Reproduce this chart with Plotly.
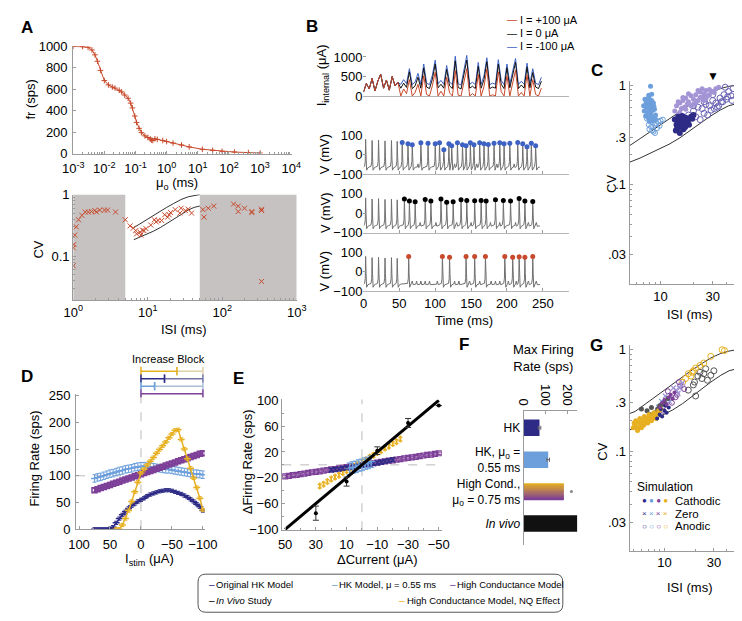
import math
import plotly.graph_objects as go

W, H = 742, 621
def fx(px): return px / W
def fy(py): return 1 - py / H
def dom_x(a, b): return [fx(a), fx(b)]
def dom_y(top, bottom): return [fy(bottom), fy(top)]

FONT = "Liberation Sans, Arial, Helvetica, sans-serif"
AX = "#9b9b9b"
C_RED = "#c8492b"
C_HK = "#2e2b86"
C_HK55 = "#6c9fdc"
C_HC = "#7d3f98"
C_NQ = "#e7b021"
C_LP = "#a394d6"
C_BLUE_B = "#3d62c4"
C_GREY = "#c6c2c2"

# ---------------- Panel A (top): firing rate vs mu_o ----------------
mu_a = [0.001, 0.002, 0.003, 0.004, 0.005, 0.006, 0.0075, 0.01, 0.0135, 0.018, 0.022, 0.03,
        0.036, 0.045, 0.058, 0.07, 0.08, 0.095, 0.108, 0.13, 0.155, 0.2, 0.25, 0.3, 0.33,
        0.36, 0.42, 0.5, 0.75, 1.0, 1.6, 3, 5.3, 14, 30, 60, 150, 420, 1000]
fr_a = [1000, 998, 990, 965, 920, 860, 775, 680, 640, 620, 610, 590, 575, 545, 515, 470,
        425, 350, 290, 235, 195, 165, 150, 135, 125, 122, 138, 132, 122, 112, 98, 80, 62,
        40, 30, 21, 14, 9, 5]
a_xticks = [-3, -2, -1, 0, 1, 2, 3, 4]
a_yticks = [0, 200, 400, 600, 800, 1000]

# ---------------- Panel A (bottom): CV vs ISI ----------------
isi_ab = [1.0, 1.0, 1.02, 1.05, 1.1, 1.18, 1.31, 1.45, 1.6, 1.76, 1.95, 2.05, 2.27, 2.63, 2.9,
          3.7, 5.0, 5.8, 6.4, 6.9, 7.1, 7.9, 8.1, 8.5, 8.9, 9.5, 11, 12.3, 13, 13.8, 15.4,
          16.9, 18.5, 19.4, 20.3, 23.4, 27, 28, 32, 35, 38.8, 55, 57, 65, 77, 142, 164, 164,
          199, 250, 250, 337, 337, 337]
cv_ab = [0.07, 0.137, 0.155, 0.22, 0.30, 0.39, 0.46, 0.52, 0.52, 0.53, 0.55, 0.52, 0.56, 0.56,
         0.56, 0.52, 0.39, 0.31, 0.285, 0.26, 0.23, 0.245, 0.22, 0.265, 0.26, 0.28, 0.32, 0.39,
         0.36, 0.38, 0.38, 0.47, 0.43, 0.47, 0.51, 0.57, 0.5, 0.6, 0.55, 0.58, 0.5, 0.57, 0.43,
         0.6, 0.65, 0.7, 0.65, 0.53, 0.6, 0.51, 0.53, 0.58, 0.55, 0.039]
shade_regions = [(1, 5), (50, 1000)]
shade_cv = (0.0195, 1.0)

# model CV band (curves)
curve_isi = [4.6, 5.2, 6.5, 8.0, 10, 12, 15, 18, 22, 28, 35, 42, 50]
curve_hi = [0.235, 0.246, 0.29, 0.34, 0.40, 0.46, 0.54, 0.62, 0.71, 0.83, 0.92, 0.97, 1.0]
curve_lo = [0.163, 0.168, 0.185, 0.205, 0.23, 0.255, 0.295, 0.34, 0.40, 0.48, 0.56, 0.62, 0.65]

# ---------------- Panel B ----------------
t_I = list(range(0, 249, 4))
I_pre = [100, 320, 180, 450, 130, 380, 560, 200, 410, 150, 500, 260, 350]
I_red_post = [0, 180, 60, 420, 0, 90, 300, 0, 520, 40, 0, 260, 610, 0, 120, 0, 480, 80, 0, 650,
              20, 0, 380, 700, 0, 60, 0, 560, 0, 240, 690, 0, 30, 0, 620, 110, 0, 520, 0, 380,
              660, 0, 90, 0, 540, 0, 420, 40, 0, 200]
I_blk_post = [200, 330, 220, 620, 190, 260, 480, 200, 720, 230, 190, 430, 820, 210, 300, 200, 680,
              260, 190, 900, 220, 180, 560, 920, 200, 250, 190, 760, 200, 420, 880, 190, 230, 200,
              820, 300, 190, 720, 210, 560, 860, 190, 280, 200, 740, 210, 600, 230, 190, 380]
I_blu_post = [300, 420, 320, 700, 290, 360, 580, 300, 820, 330, 290, 530, 920, 310, 400, 300, 780,
              360, 290, 1020, 320, 280, 660, 1040, 300, 350, 290, 860, 300, 520, 980, 290, 330, 300,
              930, 400, 290, 820, 310, 660, 960, 290, 380, 300, 840, 310, 700, 330, 290, 480]
b_labels = ["I = +100 μA", "I = 0 μA", "I = -100 μA"]

pre_t = [3, 12, 21, 30, 39, 47]
pre_v = [78, 72, 74, 70, 72, 68]
v1_t = [54, 62, 68, 80, 90, 100, 106, 112, 119, 123, 131, 138, 143, 149, 154, 162, 168, 174, 182,
        190, 196, 204, 215, 222, 228, 234, 240]
v1_v = [62, 55, 50, 60, 58, 55, 60, 25, 55, 45, 60, 50, 45, 60, 50, 60, 55, 52, 58, 60, 55, 58,
        62, 55, 40, 58, 45]
v2_t = [57, 64, 72, 86, 94, 108, 116, 125, 136, 144, 155, 164, 171, 184, 195, 205, 217, 225, 236]
v2_v = [72, 62, 58, 70, 62, 72, 56, 58, 68, 65, 63, 65, 62, 68, 64, 62, 75, 62, 60]
v3_t = [63, 110, 120, 143, 155, 170, 197, 208, 217, 225, 236]
v3_v = [78, 78, 74, 78, 77, 77, 78, 74, 76, 74, 78]
v1_bumps = [76, 127, 158, 186, 210]
v2_bumps = [79, 101, 130, 150, 177, 190, 212, 230, 241]
v3_bumps = [68, 74, 80, 86, 92, 103, 127, 133, 148, 162, 178, 184, 190, 202, 213, 230, 241]

# template of one action potential (relative times, voltages; peak inserted)
SPK_DT = [-1.5, -0.5, 0.0, 0.6, 1.4, 3.0, 5.0]
SPK_V = [-60, -35, None, -10, -80, -68, -64]
BMP_DT = [-1.0, 0.0, 1.2]
BMP_V = [-64, -48, -67]

# ---------------- Panel C ----------------
lbf_isi = [7.2, 7.5, 7.8, 8.0, 8.3, 8.6, 7.4, 7.9, 8.2, 8.8, 7.1, 7.6, 8.1, 8.5, 9.0, 7.3, 7.7, 8.4,
           8.9, 7.0, 7.5, 8.0, 8.6, 7.8, 8.3, 7.6, 8.1, 8.7, 7.4, 8.0, 8.4, 7.9, 8.2, 7.7, 8.5, 8.1]
lbf_cv = [0.72, 0.68, 0.75, 0.66, 0.70, 0.62, 0.60, 0.58, 0.64, 0.57, 0.55, 0.53, 0.52, 0.56, 0.50,
          0.49, 0.47, 0.48, 0.45, 0.62, 0.63, 0.71, 0.66, 0.79, 0.81, 0.54, 0.60, 0.61, 0.67, 0.46,
          0.44, 0.43, 0.55, 0.50, 0.58, 0.97]
lbo_isi = [7.5, 8.0, 8.5, 9.0, 9.5, 10.0, 8.2, 8.8, 9.3, 7.8, 8.4, 9.1, 9.8, 10.5, 8.6, 7.9, 8.9]
lbo_cv = [0.46, 0.44, 0.42, 0.45, 0.43, 0.44, 0.38, 0.40, 0.37, 0.40, 0.35, 0.41, 0.39, 0.45, 0.34,
          0.36, 0.33]
lp_isi = [13.5, 14, 14.5, 15, 15.5, 16, 16.5, 17, 17.5, 18, 19, 20, 21, 22, 23, 24, 25, 26, 27, 28,
          30, 32, 34, 15, 17, 19, 21, 23, 25, 14.5, 16, 18, 20, 22, 24, 26, 28, 31]
lp_cv = [0.55, 0.62, 0.50, 0.66, 0.58, 0.70, 0.60, 0.74, 0.64, 0.68, 0.78, 0.72, 0.80, 0.70, 0.85,
         0.76, 0.82, 0.88, 0.78, 0.90, 0.86, 0.92, 0.95, 0.53, 0.57, 0.62, 0.66, 0.75, 0.70, 0.68,
         0.75, 0.82, 0.64, 0.88, 0.92, 0.73, 0.80, 0.84]
dn_isi = [13.5, 14, 14.5, 15, 15.5, 16, 16.5, 17, 17.5, 18, 19, 20, 14.2, 15.2, 16.2, 17.2, 18.2,
          14.8, 15.8, 16.8, 13.8, 19.5, 15, 16, 17, 14.5]
dn_cv = [0.45, 0.40, 0.48, 0.42, 0.46, 0.40, 0.44, 0.47, 0.42, 0.45, 0.48, 0.50, 0.37, 0.38, 0.36,
         0.41, 0.40, 0.44, 0.49, 0.38, 0.35, 0.46, 0.33, 0.43, 0.45, 0.42]
od_isi = [18, 20, 21, 22, 24, 25, 26, 28, 29, 30, 32, 33, 35, 36, 38, 40, 42, 44, 46, 23, 27, 31, 34,
          37, 41, 45, 20, 25, 30, 39]
od_cv = [0.50, 0.55, 0.48, 0.60, 0.58, 0.52, 0.64, 0.62, 0.56, 0.70, 0.66, 0.60, 0.74, 0.68, 0.80,
         0.72, 0.86, 0.78, 0.92, 0.45, 0.50, 0.58, 0.62, 0.68, 0.76, 0.70, 0.62, 0.68, 0.80, 0.95]
cv_tickvals = [0.02, 0.1, 0.3, 1]
cv_ticktext = [".03", ".1", ".3", "1"]
isi_tickvals = [10, 30]

# ---------------- Panel D ----------------
d_x = list(range(75, -101, -5))
d_hk = [0, 0, 0, 0, 0, 1, 4, 12, 20, 27, 33, 39, 44, 48, 52, 55, 58, 62, 65, 67, 69, 71, 72, 73,
        73, 72, 70, 68, 66, 63, 60, 56, 52, 47, 42, 35]
d_hk55 = [95, 97, 98, 100, 102, 104, 105, 107, 109, 110, 112, 113, 114, 116, 117, 118, 118, 117,
          117, 116, 115, 114, 113, 112, 112, 111, 110, 109, 108, 107, 106, 105, 104, 104, 103, 102]
d_hc = [73, 75, 77, 79, 81, 83, 85, 87, 89, 91, 93, 95, 97, 99, 101, 103, 105, 107, 109, 111, 113,
        115, 117, 119, 121, 123, 125, 127, 129, 131, 133, 135, 137, 139, 141, 142]
d_nq_x = list(range(40, -101, -5))
d_nq = [0, 0, 8, 20, 35, 52, 70, 88, 105, 112, 120, 127, 134, 142, 149, 156, 163, 171, 178, 185,
        186, 168, 150, 132, 114, 96, 78, 58, 36]
block_colors = [(C_NQ, "#dcd2a8"), (C_HK, "#7373a6"), (C_HK55, "#a9bfd6"), (C_HC, C_HC)]
block_mid = [-58, -38, -22, None]
block_start, block_end = 0, -100

# ---------------- Panel E ----------------
e_fit_x = [50, -50]
e_fit_y = [-100, 100]
e_vivo_x = [30, 10, -10, -30, -50]
e_vivo_y = [-75, -26, 22, 65, 92]
e_vivo_err = [11, 7, 6, 7, 0]
e_hc_x = [50 - 2.5 * i for i in range(41)]
e_hc_y = [-18, -17, -16, -15.5, -14.5, -13.5, -12.5, -11.5, -11, -10, -9, -8, -7, -6.5, -5.5, -4.5,
          -3.5, -2.5, -2, -1, 0, 1, 2, 2.5, 3.5, 4.5, 5.5, 6.5, 7, 8, 9, 10, 11, 11.5, 12.5, 13.5,
          14.5, 15.5, 16, 17, 18]
e_nq_x = [27.5 - 2.5 * i for i in range(22)]
e_nq_y = [-33, -30, -26, -22, -19, -16, -12, -9, -5, -2, 1, 5, 8, 12, 15, 19, 22, 26, 29, 33, 36, 40]
e_hk_x = [20 - 2.5 * i for i in range(17)]
e_hk_y = [-8, -7, -6.5, -5.5, -4.5, -4, -3, -2, -1, 0, 1, 2, 3, 4, 5.5, 6.5, 8]
e_hk55_x = [8, 6, 4, 2, 0, -2, -4, -6]
e_hk55_y = [-6, -4, -3, -1, 0, 2, 3, 5]

# ---------------- Panel F ----------------
f_labels = ["HK", "HK, μ<sub>o</sub> =<br>0.55 ms", "High Cond.,<br>μ<sub>o</sub> = 0.75 ms",
            "<i>In vivo</i>"]
f_values = [73, 113, 185, 247]
f_err = [6, 6, 0, 0]
f_hc_point = 220

# ---------------- Panel G ----------------
gy_isi = [5.0, 5.2, 5.5, 5.7, 6.0, 6.2, 6.5, 6.8, 7.0, 7.3, 7.6, 8.0, 8.4, 5.3, 5.8, 6.3, 6.7, 7.1,
          7.5, 7.9, 8.3, 8.8, 5.1, 6.0, 6.9, 7.8, 9.2, 5.6, 6.4, 7.2]
gy_cv = [0.17, 0.18, 0.16, 0.19, 0.18, 0.20, 0.19, 0.21, 0.20, 0.22, 0.21, 0.22, 0.23, 0.20, 0.21,
         0.18, 0.20, 0.23, 0.20, 0.24, 0.21, 0.25, 0.19, 0.17, 0.19, 0.22, 0.26, 0.17, 0.22, 0.21]
gg_isi = [6.0, 6.8, 7.5, 8.2, 9.0, 10.0, 10.8, 7.2, 8.6, 9.6]
gg_cv = [0.26, 0.25, 0.27, 0.24, 0.28, 0.30, 0.33, 0.23, 0.26, 0.29]
gd_isi = [8.5, 9.0, 9.5, 10, 10.5, 11, 9.2, 10.2]
gd_cv = [0.21, 0.23, 0.22, 0.25, 0.24, 0.27, 0.26, 0.28]
gpf_isi = [9, 9.5, 10, 10.5, 11, 11.5, 12, 12.5]
gpf_cv = [0.27, 0.30, 0.32, 0.29, 0.34, 0.36, 0.33, 0.38]
gpx_isi = [13, 13.5, 14, 14.5, 15, 10.2, 11.2, 12.2]
gpx_cv = [0.40, 0.37, 0.42, 0.45, 0.47, 0.35, 0.31, 0.42]
gpo_isi = [13.2, 14.2, 9.8, 10.8, 11.8, 12.8, 13.8, 15.5]
gpo_cv = [0.36, 0.44, 0.25, 0.39, 0.30, 0.34, 0.48, 0.41]
glb_isi = [8.8, 9.4, 10.1, 11.0]
glb_cv = [0.27, 0.31, 0.29, 0.33]
gyo_isi = [16, 17, 18, 19, 20, 22, 24, 28, 36, 38, 15, 18.5]
gyo_cv = [0.52, 0.58, 0.55, 0.62, 0.66, 0.70, 0.74, 0.86, 1.0, 0.98, 0.48, 0.60]
ggo_isi = [17, 19, 20, 21, 22, 23, 24, 26, 28, 30, 19.5, 25]
ggo_cv = [0.40, 0.45, 0.35, 0.55, 0.60, 0.52, 0.58, 0.50, 0.56, 0.62, 0.48, 0.65]
g_legend = [("Cathodic", "●"), ("Zero", "×"), ("Anodic", "○")]
g_legend_colors = [C_HK, C_HK55, C_HC, C_NQ]

# ---------------- bottom legend ----------------
legend_items = [("Original HK Model", C_HK, 195, 584), ("HK Model, μ = 0.55 ms", C_HK55, 322, 584),
                ("High Conductance Model", C_HC, 444, 584), ("<i>In Vivo</i> Study", "black", 195, 600),
                ("High Conductance Model, NQ Effect", C_NQ, 392, 600)]

fig = go.Figure()

def sc(x, y, xa, ya, **kw):
    fig.add_trace(go.Scatter(x=x, y=y, xaxis=xa, yaxis=ya, showlegend=False, hoverinfo="skip", **kw))

# A top
sc(mu_a, fr_a, "x", "y", mode="lines+markers", line=dict(color=C_RED, width=1),
   marker=dict(symbol="cross-thin", size=4, line=dict(color=C_RED, width=1)))

# A bottom
for lo, hi in shade_regions:
    sc([lo, hi, hi, lo, lo], [shade_cv[0], shade_cv[0], shade_cv[1], shade_cv[1], shade_cv[0]],
       "x2", "y2", mode="lines", fill="toself", fillcolor=C_GREY, line=dict(width=0))
ci = [i for i, v in enumerate(curve_isi) if v >= 5.5]
for cv in (curve_hi, curve_lo):
    sc([curve_isi[i] for i in ci], [cv[i] for i in ci], "x2", "y2", mode="lines",
       line=dict(color="#333333", width=1))
sc(isi_ab, cv_ab, "x2", "y2", mode="markers",
   marker=dict(symbol="x-thin", size=5, line=dict(color=C_RED, width=1)))

# B current traces
sc(t_I, I_pre + I_blu_post, "x3", "y3", mode="lines", line=dict(color=C_BLUE_B, width=1))
sc(t_I, I_pre + I_blk_post, "x3", "y3", mode="lines", line=dict(color="#111111", width=1))
sc(t_I, I_pre + I_red_post, "x3", "y3", mode="lines", line=dict(color=C_RED, width=1))

def build_v(sp_t, sp_v, bumps):
    ev = sorted([(t, v, "s") for t, v in zip(pre_t + sp_t, pre_v + sp_v)] +
                [(t, None, "b") for t in bumps])
    tt, vv = [0.0], [-65.0]
    for k, (t, v, kind) in enumerate(ev):
        nxt = ev[k + 1][0] - 1.5 if k + 1 < len(ev) else 246
        dts, vs = (SPK_DT, SPK_V) if kind == "s" else (BMP_DT, BMP_V)
        for dt, dv in zip(dts, vs):
            tp = t + dt
            if tp <= tt[-1]:
                continue
            if tp >= nxt and dt > 0:
                break
            tt.append(tp)
            vv.append(v if dv is None else dv)
    tt.append(246)
    vv.append(-66)
    return tt, vv

for (st, sv, bm, col, ya, xa) in [(v1_t, v1_v, v1_bumps, C_BLUE_B, "y4", "x4"),
                                  (v2_t, v2_v, v2_bumps, "black", "y5", "x5"),
                                  (v3_t, v3_v, v3_bumps, C_RED, "y6", "x6")]:
    tt, vv = build_v(st, sv, bm)
    sc(tt, vv, xa, ya, mode="lines", line=dict(color="#707070", width=1))
    sc(st, sv, xa, ya, mode="markers", marker=dict(color=col, size=5))

# C
for cv in (curve_hi, curve_lo):
    sc(curve_isi, cv, "x7", "y7", mode="lines", line=dict(color="#333333", width=1))
sc(lbo_isi, lbo_cv, "x7", "y7", mode="markers",
   marker=dict(symbol="circle-open", size=5, color=C_HK55, line=dict(width=1)))
sc(lbf_isi, lbf_cv, "x7", "y7", mode="markers", marker=dict(size=5, color=C_HK55))
sc(od_isi, od_cv, "x7", "y7", mode="markers",
   marker=dict(symbol="circle-open", size=6, color="#6b63b5", line=dict(width=1)))
sc(lp_isi, lp_cv, "x7", "y7", mode="markers", marker=dict(size=5, color=C_LP))
sc(dn_isi, dn_cv, "x7", "y7", mode="markers", marker=dict(size=6, color=C_HK))

# D
for xs, ys, col, sym, err in [(d_x, d_hk55, C_HK55, "line-ew-open", 7),
                              (d_x, d_hc, C_HC, "square-open", 3),
                              (d_x, d_hk, C_HK, "line-ew-open", 3),
                              (d_nq_x, d_nq, C_NQ, "line-ew-open", 3)]:
    sc(xs, ys, "x8", "y8", mode="lines+markers", line=dict(color=col, width=1.5),
       marker=dict(symbol=sym, size=5, color=col, line=dict(color=col, width=1.5)),
       error_y=dict(type="constant", value=err, color=col, thickness=1, width=2))
for k, ((c1, c2), mid) in enumerate(zip(block_colors, block_mid)):
    yv = 4 - k
    if mid is None:
        sc([block_start, block_end], [yv, yv], "x9", "y9", mode="lines+markers",
           line=dict(color=c1, width=1.5),
           marker=dict(symbol="line-ns-open", size=6, line=dict(color=c1, width=1.5)))
    else:
        sc([mid, block_end], [yv, yv], "x9", "y9", mode="lines+markers",
           line=dict(color=c2, width=1.5),
           marker=dict(symbol="line-ns-open", size=6, line=dict(color=c2, width=1.5)))
        sc([block_start, mid], [yv, yv], "x9", "y9", mode="lines+markers",
           line=dict(color=c1, width=1.5),
           marker=dict(symbol="line-ns-open", size=6, line=dict(color=c1, width=1.5)))

# E
sc(e_hc_x, e_hc_y, "x10", "y10", mode="markers",
   marker=dict(symbol="square-open", size=5, color=C_HC, line=dict(width=1.2)),
   error_y=dict(type="constant", value=2, color=C_HC, thickness=1, width=2))
sc(e_nq_x, e_nq_y, "x10", "y10", mode="markers",
   marker=dict(symbol="line-ns-open", size=5, color=C_NQ, line=dict(width=1.5, color=C_NQ)),
   error_y=dict(type="constant", value=3, color=C_NQ, thickness=1.5, width=2))
sc(e_hk_x, e_hk_y, "x10", "y10", mode="markers",
   marker=dict(symbol="x-thin", size=5, color=C_HK, line=dict(width=1.2, color=C_HK)),
   error_y=dict(type="constant", value=3, color=C_HK, thickness=1, width=2))
sc(e_hk55_x, e_hk55_y, "x10", "y10", mode="markers",
   marker=dict(symbol="cross-thin", size=6, color=C_HK55, line=dict(width=1.2, color=C_HK55)),
   error_y=dict(type="constant", value=9, color=C_HK55, thickness=1, width=3))
sc(e_fit_x, e_fit_y, "x10", "y10", mode="lines", line=dict(color="black", width=3))
sc(e_vivo_x, e_vivo_y, "x10", "y10", mode="markers", marker=dict(size=4, color="black"),
   error_y=dict(type="data", array=e_vivo_err, color="#333333", thickness=1, width=3))

# F
bw = 0.52
for k, (v, e) in enumerate(zip(f_values, f_err)):
    ypos = 3 - k
    if k == 2:
        n = 14
        for j in range(n):
            t = j / (n - 1)
            r1, g1, b1 = 0xE7, 0xB0, 0x21
            r2, g2, b2 = 0x7D, 0x3F, 0x98
            col = "rgb(%d,%d,%d)" % (r1 + (r2 - r1) * t, g1 + (g2 - g1) * t, b1 + (b2 - b1) * t)
            fig.add_trace(go.Bar(x=[v], y=[ypos + bw / 2 - (j + 0.5) * bw / n], orientation="h",
                                 width=bw / n + 0.004, marker=dict(color=col, line=dict(width=0)),
                                 xaxis="x11", yaxis="y11", showlegend=False, hoverinfo="skip"))
        sc([f_hc_point], [ypos], "x11", "y11", mode="markers",
           marker=dict(size=3, color="#888888"))
    else:
        col = [C_HK, C_HK55, None, "#111111"][k]
        fig.add_trace(go.Bar(x=[v], y=[ypos], orientation="h", width=bw,
                             marker=dict(color=col, line=dict(width=0)),
                             error_x=dict(type="constant", value=e, color="#666666", thickness=1,
                                          width=2, visible=e > 0),
                             xaxis="x11", yaxis="y11", showlegend=False, hoverinfo="skip"))

# G
for cv in (curve_hi, curve_lo):
    sc(curve_isi, cv, "x12", "y12", mode="lines", line=dict(color="#333333", width=1))
sc(ggo_isi, ggo_cv, "x12", "y12", mode="markers",
   marker=dict(symbol="circle-open", size=6, color="#555555", line=dict(width=1)))
sc(gyo_isi, gyo_cv, "x12", "y12", mode="markers",
   marker=dict(symbol="circle-open", size=6, color=C_NQ, line=dict(width=1)))
sc(gpo_isi, gpo_cv, "x12", "y12", mode="markers",
   marker=dict(symbol="circle-open", size=5, color=C_HC, line=dict(width=1)))
sc(gpx_isi, gpx_cv, "x12", "y12", mode="markers",
   marker=dict(symbol="x-thin", size=5, color=C_LP, line=dict(width=1.2, color=C_LP)))
sc(glb_isi, glb_cv, "x12", "y12", mode="markers",
   marker=dict(symbol="x-thin", size=5, color=C_HK55, line=dict(width=1.2, color=C_HK55)))
sc(gg_isi, gg_cv, "x12", "y12", mode="markers", marker=dict(size=5, color="#555555"))
sc(gy_isi, gy_cv, "x12", "y12", mode="markers", marker=dict(size=5, color=C_NQ))
sc(gd_isi, gd_cv, "x12", "y12", mode="markers", marker=dict(size=4, color=C_HK))
sc(gpf_isi, gpf_cv, "x12", "y12", mode="markers", marker=dict(size=4, color=C_HC))

# ---------------- layout ----------------
def ax(**kw):
    d = dict(showline=True, linecolor=AX, linewidth=1, ticks="inside", ticklen=3,
             tickcolor=AX, showgrid=False, zeroline=False,
             tickfont=dict(family=FONT, size=13, color="black"))
    d.update(kw)
    return d

minor_log = dict(ticks="inside", ticklen=2, tickcolor=AX, dtick="D1", showgrid=False)

lay = dict(
    width=W, height=H, margin=dict(l=0, r=0, t=0, b=0), paper_bgcolor="white",
    plot_bgcolor="rgba(0,0,0,0)", showlegend=False, barmode="overlay",
    font=dict(family=FONT, size=13, color="black"),
    xaxis=ax(domain=dom_x(56, 282), type="log", range=[-3, 4.02], anchor="y",
             tickvals=[10 ** k for k in a_xticks], ticklabelstandoff=3,
             ticktext=["10<sup>%d</sup>" % k for k in a_xticks], minor=minor_log),
    yaxis=ax(domain=dom_y(32, 142), range=[0, 1000], anchor="x", tickvals=a_yticks,
             ticklabelstandoff=2),
    xaxis2=ax(domain=dom_x(56, 287), type="log", range=[0, 3], anchor="y2",
              tickvals=[1, 10, 100, 1000], ticktext=["10<sup>0</sup>", "10<sup>1</sup>",
                                                     "10<sup>2</sup>", "10<sup>3</sup>"],
              minor=minor_log),
    yaxis2=ax(domain=dom_y(184, 292), type="log", range=[math.log10(0.0195), 0], anchor="x2",
              tickvals=[0.1, 1], ticktext=["0.1", "1"], minor=minor_log),
    xaxis3=ax(domain=dom_x(356, 568), range=[0, 286], anchor="y3", ticks="",
              showticklabels=False, linecolor="#b5b5b5"),
    yaxis3=ax(domain=dom_y(38, 83), range=[0, 1125], anchor="x3", tickvals=[0, 500, 1000],
              showline=False),
)
for i, (top, bot) in zip((4, 5, 6), ((123, 163), (183, 223), (243, 283))):
    lay["xaxis%d" % i] = ax(domain=dom_x(356, 568), range=[0, 286], anchor="y%d" % i,
                            tickvals=[0, 50, 100, 150, 200, 250], showticklabels=(i == 6),
                            linecolor="#b5b5b5")
    lay["yaxis%d" % i] = ax(domain=dom_y(top, bot), range=[-100, 100], anchor="x%d" % i,
                            tickvals=[-100, 0, 100], showline=False)
lay.update(
    xaxis7=ax(domain=dom_x(631, 742), type="log", range=[0.717, 1.699], anchor="y7",
              tickvals=isi_tickvals, minor=minor_log),
    yaxis7=ax(domain=dom_y(68, 276), type="log", range=[-2, 0.037], anchor="x7",
              tickvals=cv_tickvals, ticktext=cv_ticktext, minor=minor_log),
    xaxis8=ax(domain=dom_x(59, 192), range=[104.7, -103], anchor="y8",
              tickvals=[100, 50, 0, -50, -100], ticklabelstandoff=3),
    yaxis8=ax(domain=dom_y(388, 527), range=[0, 253.6], anchor="x8",
              tickvals=[0, 50, 100, 150, 200, 250], ticklabelstandoff=2),
    xaxis9=dict(domain=dom_x(59, 192), range=[104.7, -103], anchor="y9", visible=False),
    yaxis9=dict(domain=dom_y(360, 392), range=[0.48, 4.65], anchor="x9", visible=False),
    xaxis10=ax(domain=dom_x(272, 437), range=[51.9, -52], anchor="y10",
               tickvals=[50, 30, 10, -10, -30, -50], ticklabelstandoff=2,
               minor=dict(tickvals=[40, 20, 0, -20, -40], ticks="inside", ticklen=2,
                          tickcolor=AX)),
    yaxis10=ax(domain=dom_y(394, 528), range=[-101.5, 101.5], anchor="x10",
               tickvals=[100, 60, 20, -20, -60, -100],
               minor=dict(tickvals=[80, 40, 0, -40, -80], ticks="inside", ticklen=2,
                          tickcolor=AX)),
    xaxis11=ax(domain=dom_x(521.5, 577), range=[0, 247], anchor="y11", side="top",
               tickangle=90, tickvals=[0, 100, 200]),
    yaxis11=ax(domain=dom_y(406, 543), range=[-0.67, 3.52], anchor="x11", ticks="",
               tickvals=[3, 2, 1, 0], ticktext=f_labels,
               tickfont=dict(family=FONT, size=12, color="black")),
    xaxis12=ax(domain=dom_x(631, 742), type="log", range=[0.664, 1.70], anchor="y12",
               tickvals=isi_tickvals, minor=minor_log),
    yaxis12=ax(domain=dom_y(338, 549), type="log", range=[-1.98, 0.048], anchor="x12",
               tickvals=cv_tickvals, ticktext=cv_ticktext, minor=minor_log),
)

def ann(text, px, py, size=13, xanchor="center", yanchor="middle", angle=0, color="black"):
    return dict(text=text, x=fx(px), y=fy(py), xref="paper", yref="paper", showarrow=False,
                xanchor=xanchor, yanchor=yanchor, textangle=angle, borderpad=0,
                font=dict(family=FONT, size=size, color=color))

anns = []
for letter, px, py in [("A", 8, 13), ("B", 303, 12), ("C", 597, 57), ("D", 8, 370),
                       ("E", 227, 372), ("F", 460, 338), ("G", 597, 339)]:
    anns.append(ann("<b>%s</b>" % letter, px, py, size=17))
anns += [
    ann("fr (sps)", 12, 87, angle=-90),
    ann("μ<sub>o</sub> (ms)", 163, 173),
    ann("CV", 20, 240, angle=-90),
    ann("ISI (ms)", 170, 322),
    ann("I<sub>internal</sub> (μA)", 314, 62, angle=-90),
    ann("V (mV)", 316, 143, angle=-90), ann("V (mV)", 316, 203, angle=-90),
    ann("V (mV)", 316, 263, angle=-90),
    ann("Time (ms)", 460, 313),
    ann("CV", 613, 173, angle=-90), ann("ISI (ms)", 693, 307),
    ann("Firing Rate (sps)", 15, 455, angle=-90),
    ann("I<sub>stim</sub> (μA)", 135, 558),
    ann("Increase Block", 155, 353, size=11),
    ann("ΔFiring Rate (sps)", 237, 458, angle=-90),
    ann("ΔCurrent (μA)", 370, 558),
    ann("Max Firing<br>Rate (sps)", 542, 352),
    ann("CV", 603, 447, angle=-90), ann("ISI (ms)", 693, 587),
    ann("Simulation", 668, 484, size=12),
    ann("▼", 717, 63, size=12),
]
for k, (lab, col) in enumerate(zip(b_labels, [C_RED, "#111111", C_BLUE_B])):
    anns.append(ann("—", 503, 5 + 13.5 * k, size=10, xanchor="left", color=col))
    anns.append(ann(lab, 517, 5 + 13.5 * k, size=11, xanchor="left"))
for k, (lab, sym) in enumerate(g_legend):
    syms = " ".join('<span style="color:%s">%s</span>' % (c, sym) for c in g_legend_colors)
    anns.append(ann(syms, 672, 498 + 13 * k, size=8, xanchor="right"))
    anns.append(ann(lab, 677, 498 + 13 * k, size=11.5, xanchor="left"))
for lab, col, px, py in legend_items:
    anns.append(ann("–", px, py, size=10, xanchor="left", color=col))
    anns.append(ann(lab, px + 8, py, size=9.5, xanchor="left"))
lay["annotations"] = anns

# shapes
x0, x1, y0, y1, r = 185, 562, 573, 612, 8
def P(a, b): return "%.5f,%.5f" % (fx(a), fy(b))
box = ("M " + P(x0 + r, y0) + " L " + P(x1 - r, y0) + " Q " + P(x1, y0) + " " + P(x1, y0 + r) +
       " L " + P(x1, y1 - r) + " Q " + P(x1, y1) + " " + P(x1 - r, y1) + " L " + P(x0 + r, y1) +
       " Q " + P(x0, y1) + " " + P(x0, y1 - r) + " L " + P(x0, y0 + r) + " Q " + P(x0, y0) + " " +
       P(x0 + r, y0) + " Z")
shapes = [
    dict(type="path", path=box, xref="paper", yref="paper", line=dict(color="#555555", width=1)),
    dict(type="line", xref="x8", yref="paper", x0=0, x1=0, y0=fy(527), y1=fy(360),
         line=dict(color="#bbbbbb", width=1, dash="dash"), layer="below"),
    dict(type="line", xref="x8", yref="y8", x0=104.7, x1=0, y0=100, y1=100,
         line=dict(color="#bbbbbb", width=1, dash="dash"), layer="below"),
    dict(type="line", xref="x10", yref="y10 domain", x0=0, x1=0, y0=0, y1=1,
         line=dict(color="#bbbbbb", width=1, dash="dash"), layer="below"),
    dict(type="line", xref="x10 domain", yref="y10", x0=0, x1=1, y0=0, y1=0,
         line=dict(color="#bbbbbb", width=1, dash="dash"), layer="below"),
]
lay["shapes"] = shapes
fig.update_layout(**lay)
fig.write_html("out.html")
